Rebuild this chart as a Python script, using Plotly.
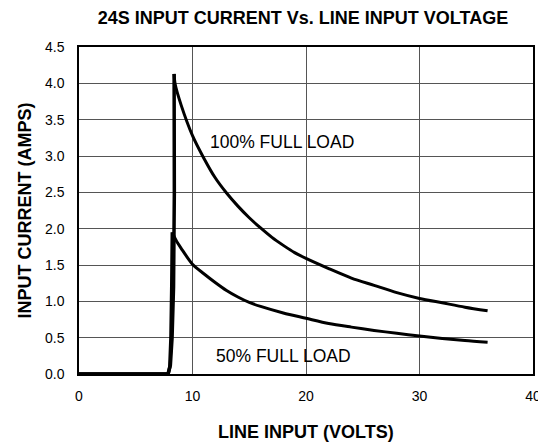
import plotly.graph_objects as go

# 100% full load curve (volts, amps): rising edge then decay
v_full_rise = [0, 7.85, 8.05, 8.2, 8.33, 8.4, 8.38]
i_full_rise = [0, 0, 0.12, 0.5, 1.2, 2.5, 4.13]
v_full = [8.38, 8.47, 9.0, 10.0, 11.0, 12.0, 13.0, 14.0, 15.0, 16.0, 17.0, 18.0, 19.0,
          20.0, 22.0, 24.0, 26.0, 28.0, 30.0, 32.0, 34.0, 36.0]
i_full = [4.13, 3.99, 3.70, 3.28, 2.97, 2.70, 2.49, 2.31, 2.15, 2.01, 1.88, 1.77, 1.67,
          1.59, 1.45, 1.32, 1.22, 1.12, 1.04, 0.98, 0.92, 0.87]

# 50% full load curve
v_half_rise = [0, 7.85, 8.0, 8.1, 8.17, 8.22]
i_half_rise = [0, 0, 0.1, 0.5, 1.2, 1.95]
v_half = [8.22, 8.55, 9.0, 10.0, 11.0, 12.0, 13.0, 14.0, 15.0, 16.0, 18.0, 20.0, 22.0,
          24.0, 26.0, 28.0, 30.0, 32.0, 34.0, 36.0]
i_half = [1.95, 1.84, 1.73, 1.51, 1.38, 1.26, 1.15, 1.06, 0.985, 0.93, 0.84, 0.767, 0.695,
          0.645, 0.60, 0.56, 0.523, 0.49, 0.46, 0.437]

x_ticks = [0, 10, 20, 30, 40]
y_ticks = [0.0, 0.5, 1.0, 1.5, 2.0, 2.5, 3.0, 3.5, 4.0, 4.5]

labels = ["100% FULL LOAD", "50% FULL LOAD"]
label_x = [11.35, 11.85]
label_y = [3.19, 0.25]

FONT = "Liberation Sans, Arial, Helvetica, sans-serif"

fig = go.Figure()
for vx, iy in [(v_full_rise, i_full_rise), (v_half_rise, i_half_rise)]:
    fig.add_trace(go.Scatter(x=vx, y=iy, mode="lines", line=dict(color="black", width=3.5),
                             showlegend=False))
for vx, iy in [(v_full, i_full), (v_half, i_half)]:
    fig.add_trace(go.Scatter(x=vx, y=iy, mode="lines",
                             line=dict(color="black", width=3, shape="spline", smoothing=0.8),
                             showlegend=False))

for t, lx, ly in zip(labels, label_x, label_y):
    fig.add_annotation(x=lx, y=ly, text=t, showarrow=False, xanchor="left", yanchor="middle",
                       font=dict(family=FONT, size=17.5, color="black"))

# axis titles
fig.add_annotation(x=0.5, y=-0.177, xref="paper", yref="paper", text="<b>LINE INPUT (VOLTS)</b>",
                   showarrow=False, xanchor="center", yanchor="middle",
                   font=dict(family=FONT, size=18, color="black"))
fig.add_annotation(x=-0.121, y=0.5, xref="paper", yref="paper", text="<b>INPUT CURRENT (AMPS)</b>",
                   showarrow=False, xanchor="center", yanchor="middle", textangle=-90,
                   font=dict(family=FONT, size=18, color="black"))

fig.update_layout(
    width=538, height=442,
    margin=dict(l=79, r=5, t=47, b=68, autoexpand=False),
    paper_bgcolor="white", plot_bgcolor="white",
    font=dict(family=FONT, color="black"),
    title=dict(text="<b>24S INPUT CURRENT Vs. LINE INPUT VOLTAGE</b>",
               x=303 / 538, xanchor="center", y=1 - 18 / 442, yanchor="middle",
               font=dict(size=18, color="black")),
)
fig.update_xaxes(range=[0, 40], tickvals=x_ticks, ticktext=[str(v) for v in x_ticks],
                 showgrid=True, gridcolor="#555555", gridwidth=1,
                 showline=True, linecolor="black", linewidth=1.5, mirror=True,
                 zeroline=False, ticks="", ticklabelstandoff=8, automargin=False,
                 ticklabeloverflow="allow",
                 tickfont=dict(size=14, color="black"))
fig.update_yaxes(range=[0, 4.5], tickvals=y_ticks, ticktext=[f"{v:.1f}" for v in y_ticks],
                 showgrid=True, gridcolor="#555555", gridwidth=1,
                 showline=True, linecolor="black", linewidth=1.5, mirror=True,
                 zeroline=False, ticks="", ticklabelstandoff=10, automargin=False,
                 ticklabeloverflow="allow",
                 tickfont=dict(size=14, color="black"))

fig.write_html("out.html", config={"displayModeBar": False},
               post_script="document.body.style.margin='0';document.body.style.overflow='hidden';")
